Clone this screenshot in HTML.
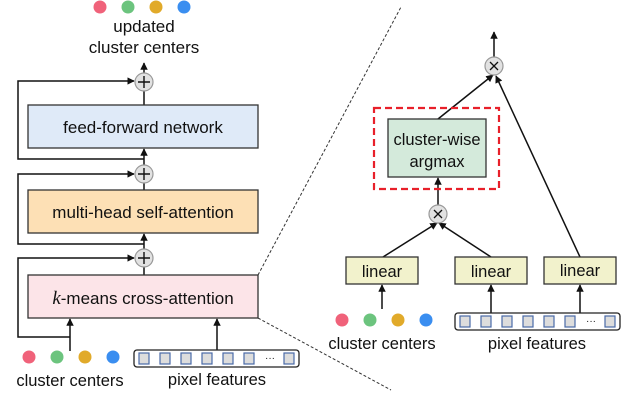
<!DOCTYPE html>
<html><head><meta charset="utf-8"><style>
html,body{margin:0;padding:0;background:#fff;}
svg{display:block;}
text{font-family:"Liberation Sans","DejaVu Sans",sans-serif;fill:#111;}
</style></head><body>
<svg width="640" height="419" viewBox="0 0 640 419" xmlns="http://www.w3.org/2000/svg">
<defs>
<marker id="ah" viewBox="0 0 10 10" refX="9" refY="5" markerWidth="5" markerHeight="5" orient="auto-start-reverse"><path d="M0,0 L10,5 L0,10 z" fill="#111"/></marker>
<g id="pbar">
<rect x="0" y="0" width="165" height="17" rx="3" fill="#fff" stroke="#222" stroke-width="1.3"/>
<rect x="5" y="3" width="10" height="11" fill="#ddd" stroke="#4a6aa8" stroke-width="1.2"/>
<rect x="26" y="3" width="10" height="11" fill="#ddd" stroke="#4a6aa8" stroke-width="1.2"/>
<rect x="47" y="3" width="10" height="11" fill="#ddd" stroke="#4a6aa8" stroke-width="1.2"/>
<rect x="68" y="3" width="10" height="11" fill="#ddd" stroke="#4a6aa8" stroke-width="1.2"/>
<rect x="89" y="3" width="10" height="11" fill="#ddd" stroke="#4a6aa8" stroke-width="1.2"/>
<rect x="110" y="3" width="10" height="11" fill="#ddd" stroke="#4a6aa8" stroke-width="1.2"/>
<text x="136" y="11" font-size="10" text-anchor="middle">···</text>
<rect x="150" y="3" width="10" height="11" fill="#ddd" stroke="#4a6aa8" stroke-width="1.2"/>
</g>
<g id="dots">
<circle cx="0" cy="0" r="6.5" fill="#f0627a"/>
<circle cx="28" cy="0" r="6.5" fill="#6cc47e"/>
<circle cx="56" cy="0" r="6.5" fill="#e1aa2a"/>
<circle cx="84" cy="0" r="6.5" fill="#3a8ef0"/>
</g>
</defs>

<!-- LEFT -->
<use href="#dots" x="100" y="7"/>
<text x="144" y="32" font-size="17" text-anchor="middle">updated</text>
<text x="144" y="53" font-size="17" text-anchor="middle">cluster centers</text>

<g stroke="#111" stroke-width="1.5" fill="none">
<line x1="144" y1="73" x2="144" y2="63" marker-end="url(#ah)"/>
<polyline points="144,159 18,159 18,81 134,81" marker-end="url(#ah)"/>
<line x1="144" y1="105" x2="144" y2="91"/>
<line x1="144" y1="165" x2="144" y2="149" marker-end="url(#ah)"/>
<polyline points="144,244 18,244 18,174 134,174" marker-end="url(#ah)"/>
<line x1="144" y1="190" x2="144" y2="183"/>
<line x1="144" y1="249" x2="144" y2="234" marker-end="url(#ah)"/>
<polyline points="70,337 18,337 18,258 134,258" marker-end="url(#ah)"/>
<line x1="144" y1="275" x2="144" y2="267"/>
<line x1="70" y1="351" x2="70" y2="319" marker-end="url(#ah)"/>
<line x1="217" y1="350" x2="217" y2="319" marker-end="url(#ah)"/>
</g>
<g fill="#e2e2e2" stroke="#999" stroke-width="1.2">
<circle cx="144" cy="82" r="9"/><circle cx="144" cy="174" r="9"/><circle cx="144" cy="258" r="9"/>
</g>
<g stroke="#111" stroke-width="1.4">
<path d="M138,82h12M144,76v12M138,174h12M144,168v12M138,258h12M144,252v12"/>
</g>

<rect x="28" y="105" width="230" height="43" fill="#dfeaf8" stroke="#333" stroke-width="1.3"/>
<text x="143" y="133" font-size="17" text-anchor="middle">feed-forward network</text>
<rect x="28" y="190" width="230" height="43" fill="#fde0b5" stroke="#333" stroke-width="1.3"/>
<text x="143" y="218" font-size="17" text-anchor="middle">multi-head self-attention</text>
<rect x="28" y="275" width="230" height="43" fill="#fce4e8" stroke="#333" stroke-width="1.3"/>
<text x="143" y="304" font-size="17" text-anchor="middle"><tspan font-family="Liberation Serif,serif" font-style="italic" font-size="19">k</tspan>-means cross-attention</text>

<use href="#dots" x="29" y="357"/>
<text x="70" y="386" font-size="16.5" text-anchor="middle">cluster centers</text>
<use href="#pbar" x="134" y="350"/>
<text x="217" y="385" font-size="16.5" text-anchor="middle">pixel features</text>

<!-- zoom lines -->
<g stroke="#333" stroke-width="1" stroke-dasharray="3,2" fill="none">
<line x1="258" y1="275" x2="401" y2="7"/>
<line x1="258" y1="318" x2="391" y2="390"/>
</g>

<!-- RIGHT -->
<g stroke="#111" stroke-width="1.5" fill="none">
<line x1="494" y1="57" x2="494" y2="32" marker-end="url(#ah)"/>
<line x1="438" y1="119" x2="493" y2="75" marker-end="url(#ah)"/>
<line x1="580" y1="257" x2="496" y2="76" marker-end="url(#ah)"/>
<line x1="438" y1="205" x2="438" y2="178" marker-end="url(#ah)"/>
<line x1="383" y1="257" x2="437" y2="223" marker-end="url(#ah)"/>
<line x1="491" y1="257" x2="439" y2="223" marker-end="url(#ah)"/>
<line x1="382" y1="309" x2="382" y2="285" marker-end="url(#ah)"/>
<line x1="491" y1="313" x2="491" y2="285" marker-end="url(#ah)"/>
<line x1="580" y1="313" x2="580" y2="285" marker-end="url(#ah)"/>
</g>
<g fill="#e2e2e2" stroke="#999" stroke-width="1.2">
<circle cx="494" cy="66" r="9"/><circle cx="438" cy="214" r="9"/>
</g>
<g stroke="#111" stroke-width="1.3">
<path d="M490,62l8,8M498,62l-8,8M434,210l8,8M442,210l-8,8"/>
</g>
<rect x="374" y="108" width="125" height="81" fill="none" stroke="#e8202a" stroke-width="2.2" stroke-dasharray="7,4"/>
<rect x="388" y="119" width="98" height="58" fill="#d4eadb" stroke="#333" stroke-width="1.3"/>
<text x="437" y="145" font-size="16.5" text-anchor="middle">cluster-wise</text>
<text x="437" y="167" font-size="16.5" text-anchor="middle">argmax</text>

<g fill="#f2f2cc" stroke="#333" stroke-width="1.3">
<rect x="346" y="257" width="72" height="27"/>
<rect x="455" y="257" width="72" height="27"/>
<rect x="544" y="257" width="72" height="27"/>
</g>
<text x="382" y="277" font-size="16.5" text-anchor="middle">linear</text>
<text x="491" y="277" font-size="16.5" text-anchor="middle">linear</text>
<text x="580" y="276" font-size="16.5" text-anchor="middle">linear</text>

<use href="#dots" x="342" y="320"/>
<text x="382" y="349" font-size="16.5" text-anchor="middle">cluster centers</text>
<use href="#pbar" x="455" y="313"/>
<text x="537" y="349" font-size="16.5" text-anchor="middle">pixel features</text>
</svg>
</body></html>
